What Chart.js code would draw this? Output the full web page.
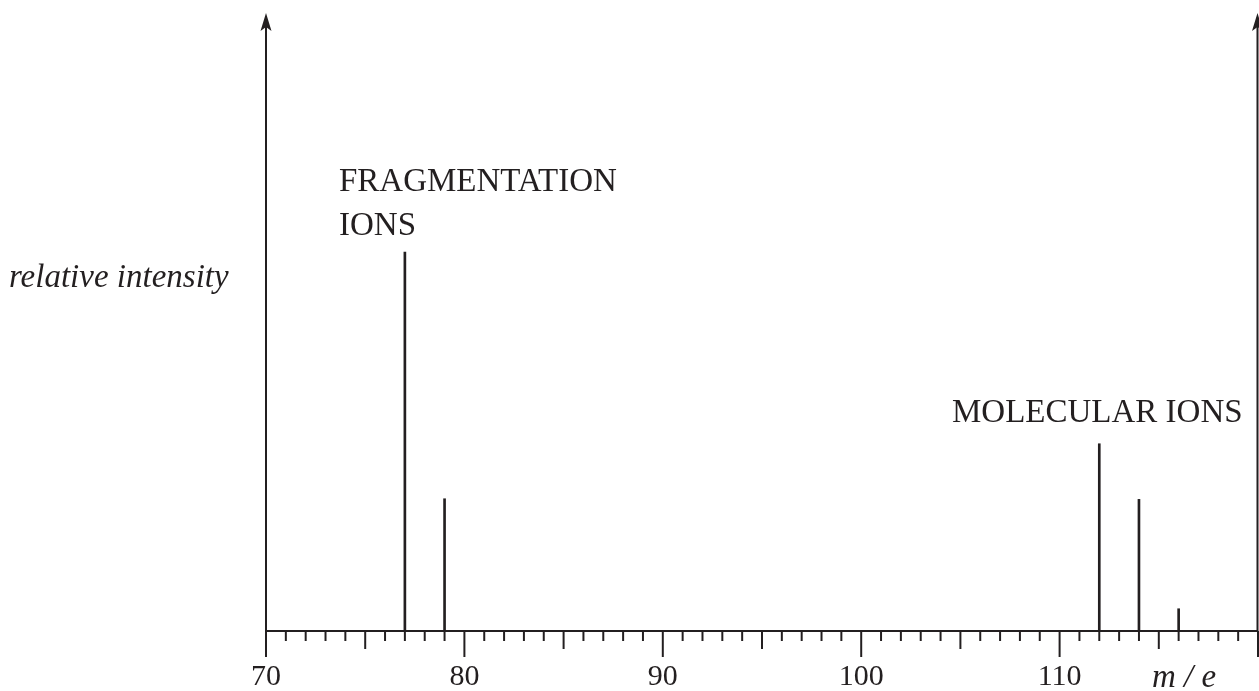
<!DOCTYPE html>
<html>
<head>
<meta charset="utf-8">
<script src="https://cdn.jsdelivr.net/npm/chart.js@4.4.1/dist/chart.umd.min.js"></script>
<style>
  html,body{margin:0;padding:0;background:#fff;}
  #wrap{width:1259px;height:691px;position:relative;}
</style>
</head>
<body>
<div id="wrap"><canvas id="ms"></canvas></div>
<script>
// mass spectrum peaks (m/e, relative intensity, arbitrary units 0-100)
const massValues = [77, 79, 112, 114, 116];
const intensities = [61.3, 21.4, 30.3, 21.3, 3.6];
const xMin = 70, xMax = 120;
const labelledTicks = [70, 80, 90, 100, 110];

const INK = '#231f20';
const SERIF = '"Liberation Serif", "Times New Roman", serif';

// draws the minor/major ticks, tick labels, the two arrowed verticals and the captions
const spectrumDecor = {
  id: 'spectrumDecor',
  afterDatasetsDraw(chart) {
    const {ctx, chartArea, scales} = chart;
    const x = scales.x, bottom = chartArea.bottom, top = chartArea.top;
    ctx.save();
    ctx.strokeStyle = INK;
    ctx.fillStyle = INK;
    ctx.lineWidth = 2;

    // baseline
    ctx.beginPath();
    ctx.moveTo(x.getPixelForValue(xMin), bottom);
    ctx.lineTo(x.getPixelForValue(xMax), bottom);
    ctx.stroke();

    // ticks: 1 unit minor, 5 medium, 10 long
    x.ticks.forEach(t => {
      const v = t.value;
      const len = v % 10 === 0 ? 26 : (v % 5 === 0 ? 18 : 10);
      const px = x.getPixelForValue(v);
      ctx.beginPath();
      ctx.moveTo(px, bottom);
      ctx.lineTo(px, bottom + len);
      ctx.stroke();
    });

    // tick labels
    ctx.font = '30px ' + SERIF;
    ctx.textAlign = 'center';
    ctx.textBaseline = 'alphabetic';
    labelledTicks.forEach(v => ctx.fillText(String(v), x.getPixelForValue(v), bottom + 54));

    // arrowed verticals at both ends
    [xMin, xMax].forEach(v => {
      const px = Math.min(x.getPixelForValue(v), chart.width - 1.5);
      ctx.beginPath();
      ctx.moveTo(px, bottom);
      ctx.lineTo(px, top + 12);
      ctx.stroke();
      ctx.beginPath();
      ctx.moveTo(px, top);
      ctx.lineTo(px + 5.5, top + 18);
      ctx.lineTo(px, top + 14);
      ctx.lineTo(px - 5.5, top + 18);
      ctx.closePath();
      ctx.fill();
    });

    // captions
    ctx.textAlign = 'left';
    ctx.font = '33px ' + SERIF;
    ctx.fillText('FRAGMENTATION', 339, 191);
    ctx.fillText('IONS', 339, 235);
    ctx.fillText('MOLECULAR IONS', 952, 422);
    ctx.font = 'italic 33px ' + SERIF;
    ctx.fillText('relative intensity', 9, 287);
    ctx.fillText('m / e', 1152, 687);
    ctx.restore();
  }
};

new Chart(document.getElementById('ms'), {
  type: 'bar',
  data: {
    datasets: [{
      data: massValues.map((m, i) => ({x: m, y: intensities[i]})),
      backgroundColor: INK,
      barThickness: 2,
      borderWidth: 0
    }]
  },
  options: {
    responsive: true,
    maintainAspectRatio: false,
    animation: false,
    layout: {padding: {left: 266, right: 1, top: 13, bottom: 60}},
    plugins: {legend: {display: false}, tooltip: {enabled: false}},
    scales: {
      x: {
        type: 'linear',
        min: xMin,
        max: xMax,
        offset: false,
        grid: {display: false},
        border: {display: false},
        ticks: {stepSize: 1, autoSkip: false, display: false},
        afterFit: s => { s.height = 0; s.paddingLeft = 0; s.paddingRight = 0; }
      },
      y: {
        display: false,
        min: 0,
        max: 100
      }
    }
  },
  plugins: [spectrumDecor]
});
</script>
</body>
</html>
